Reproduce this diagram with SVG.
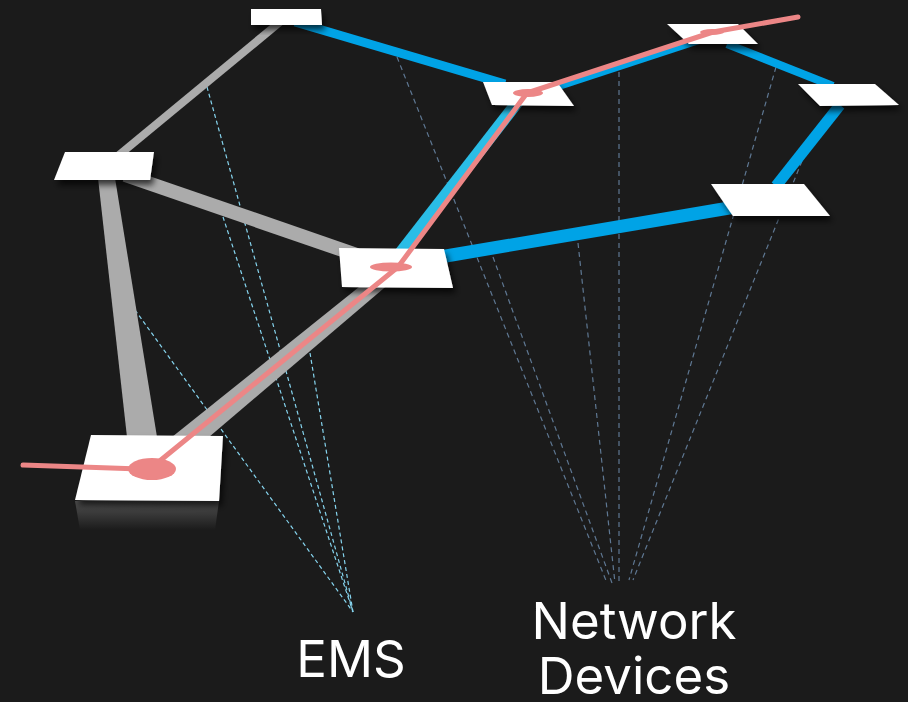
<svg xmlns="http://www.w3.org/2000/svg" width="908" height="702" viewBox="0 0 908 702">
<style>
.ems{fill:none;stroke:#86D4EE;stroke-width:1.2;stroke-dasharray:4 3}
.nd{fill:none;stroke:#5F7893;stroke-width:1.2;stroke-dasharray:5 4}
.gray{fill:#ABABAB}
.grayl{stroke:#ABABAB;fill:none}
.blue{stroke:#00A3E6;fill:none}
.cyan{stroke:#2ABDE6;fill:none}
.pink{stroke:#EC8686;fill:none;stroke-width:5;stroke-linecap:round}
.pinkf{fill:#EC8686}
.node{fill:#FFFFFF;filter:url(#sh)}
.lbl{fill:#FFFFFF;font-family:Inter,"Liberation Sans",sans-serif;font-size:51px;text-anchor:middle}
</style>
<defs>
<filter id="sh" x="-20%" y="-40%" width="150%" height="200%">
<feDropShadow dx="3" dy="5" stdDeviation="3" flood-color="#000" flood-opacity="0.7"/>
</filter>
<linearGradient id="refl" x1="0" y1="0" x2="0" y2="1">
<stop offset="0" stop-color="#505050"/>
<stop offset="1" stop-color="#1B1B1B"/>
</linearGradient>
</defs>
<rect width="908" height="702" fill="#1B1B1B"/>
<g id="dashes">
<line class="ems" x1="207" y1="87" x2="353" y2="612"/>
<line class="ems" x1="223" y1="217" x2="353" y2="612"/>
<line class="ems" x1="135" y1="310" x2="353" y2="612"/>
<line class="ems" x1="310" y1="353" x2="353" y2="612"/>
<line class="nd" x1="397" y1="57" x2="607" y2="583"/>
<line class="nd" x1="493" y1="257" x2="612" y2="583"/>
<line class="nd" x1="578" y1="243" x2="615" y2="583"/>
<line class="nd" x1="619" y1="72" x2="619" y2="582"/>
<line class="nd" x1="776" y1="67" x2="629" y2="580"/>
<line class="nd" x1="802" y1="161" x2="633" y2="580"/>
</g>
<g id="connectors">
<line class="grayl" x1="280" y1="22" x2="119" y2="155" stroke-width="8"/>
<line class="grayl" x1="125" y1="175" x2="357" y2="255" stroke-width="14"/>
<polygon class="gray" points="98,178 115,178 157,437 127,437"/>
<polygon class="gray" points="172,437 364,283 390,283 209,437"/>
<line class="blue" x1="295" y1="22" x2="505" y2="84" stroke-width="9"/>
<line class="blue" x1="527" y1="97" x2="713" y2="36" stroke-width="7"/>
<line class="blue" x1="727" y1="44" x2="833" y2="86" stroke-width="8"/>
<line class="blue" x1="840" y1="105" x2="776" y2="186" stroke-width="11"/>
<line class="blue" x1="440" y1="257" x2="735" y2="207" stroke-width="13"/>
<line class="cyan" x1="523" y1="95" x2="391" y2="265" stroke-width="12"/>
</g>
<g id="node-h">
<polygon points="75,501 219,501 215,530 80,530" fill="url(#refl)"/>
<polygon class="node" points="91,435 223,436 219,501 75,500"/>
</g>
<g id="node-a"><polygon class="node" points="251,9 321,9 322,25 251,25"/></g>
<g id="node-b"><polygon class="node" points="65,152 154,152 150,180 54,180"/></g>
<g id="node-c"><polygon class="node" points="339,248 444,249 453,288 342,287"/></g>
<g id="node-d"><polygon class="node" points="483,82 557,82 574,106 492,105"/></g>
<g id="node-e"><polygon class="node" points="667,24 738,24 758,44 689,44"/></g>
<g id="node-f"><polygon class="node" points="798,84 875,84 899,105 820,106"/></g>
<g id="node-g"><polygon class="node" points="711,184 804,184 830,216 733,216"/></g>
<g id="path">
<polyline class="pink" points="23,465 140,469"/>
<polyline class="pink" points="156,464 398,267 527,93 713,32 798,17"/>
<ellipse class="pinkf" cx="152" cy="469" rx="24" ry="11"/>
<ellipse class="pinkf" cx="391" cy="267" rx="21" ry="4.5"/>
<ellipse class="pinkf" cx="528" cy="93" rx="15" ry="4"/>
<ellipse class="pinkf" cx="712" cy="32" rx="12" ry="3"/>
</g>
<g id="labels">
<text class="lbl" x="351" y="677">EMS</text>
<text class="lbl" x="634" y="639">Network</text>
<text class="lbl" x="634" y="694">Devices</text>
</g>
</svg>
